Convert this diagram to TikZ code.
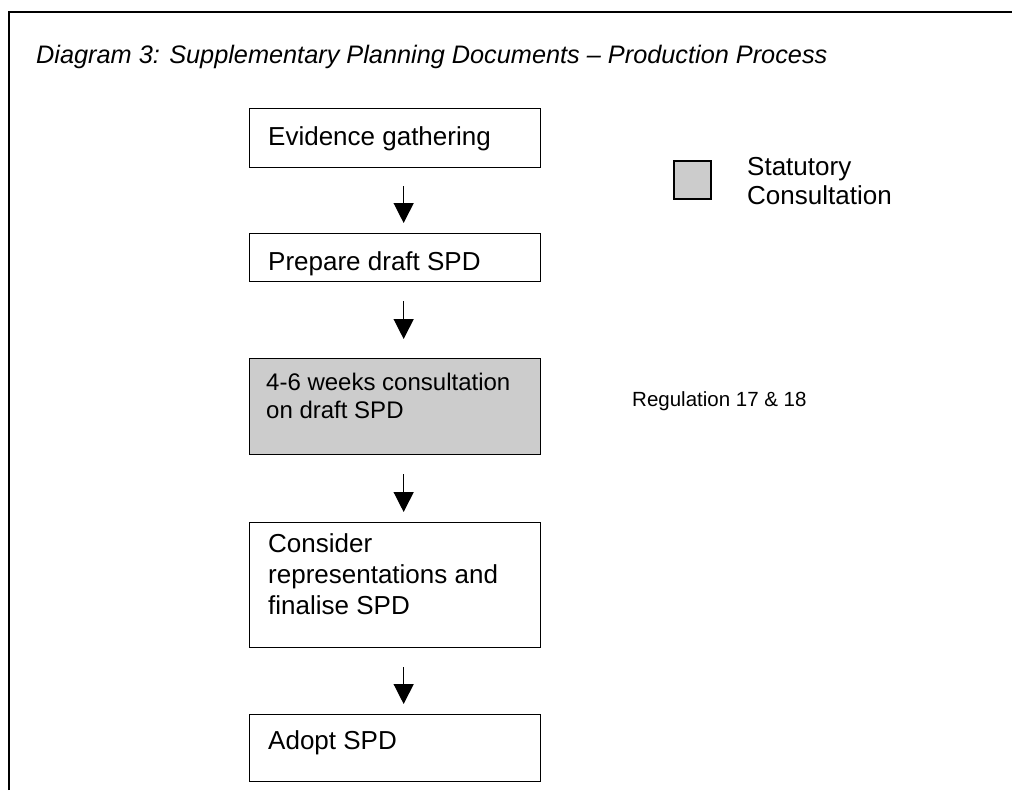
\documentclass[tikz,border=0pt]{standalone}
\usepackage{fontspec}
\setmainfont{Liberation Sans}
\usetikzlibrary{arrows.meta}
\definecolor{shade}{RGB}{204,204,204}
\begin{document}
\begin{tikzpicture}[x=1pt,y=-1pt,
  box/.style={draw=black, line width=1.3pt, fill=white, inner sep=0pt, anchor=north west, minimum width=291pt},
  txt/.style={anchor=base west, inner sep=0pt, align=left, font=\fontsize{26}{31}\selectfont},
  flow/.style={draw=black, line width=1.3pt, -{Triangle[width=20pt,length=20pt]}}]
\useasboundingbox (0,0) rectangle (1012,790);
\draw[line width=2pt] (9,790) -- (9,11.5) -- (1012,11.5);
\node[txt, font=\fontsize{25.3}{29}\selectfont\itshape] (title) at (36,63) {Diagram 3: Supplementary Planning Documents -- Production Process};

\node[box, minimum height=59pt] (ev) at (249,108) {};
\node[box, minimum height=48pt] (pr) at (249,233) {};
\node[box, minimum height=96pt, fill=shade] (co) at (249,358) {};
\node[box, minimum height=125pt] (cn) at (249,522) {};
\node[box, minimum height=67pt] (ad) at (249,714) {};

\node[txt] (evt) at (268,145) {Evidence gathering};
\node[txt] (prt) at (268,270) {Prepare draft SPD};
\node[txt, font=\fontsize{24}{28}\selectfont] (cot) at (266,418) {4-6 weeks consultation\\on draft SPD};
\node[txt] (cnt) at (268,614) {Consider\\representations and\\finalise SPD};
\node[txt] (adt) at (268,749) {Adopt SPD};

\draw[flow] ([xshift=8.5pt,yshift=-18pt]ev.south) -- ([xshift=8.5pt,yshift=10pt]pr.north);
\draw[flow] ([xshift=8.5pt,yshift=-19pt]pr.south) -- ([xshift=8.5pt,yshift=19pt]co.north);
\draw[flow] ([xshift=8.5pt,yshift=-19pt]co.south) -- ([xshift=8.5pt,yshift=10pt]cn.north);
\draw[flow] ([xshift=8.5pt,yshift=-19pt]cn.south) -- ([xshift=8.5pt,yshift=10pt]ad.north);

\node[draw=black, line width=2pt, fill=shade, inner sep=0pt, minimum width=37pt, minimum height=38pt, anchor=north west] (leg) at (673,160) {};
\node[txt, font=\fontsize{26}{29}\selectfont] (legt) at (747,204) {Statutory\\Consultation};
\node[txt, font=\fontsize{20.5}{24}\selectfont] (reg) at (632,406) {Regulation 17 \& 18};
\end{tikzpicture}
\end{document}
